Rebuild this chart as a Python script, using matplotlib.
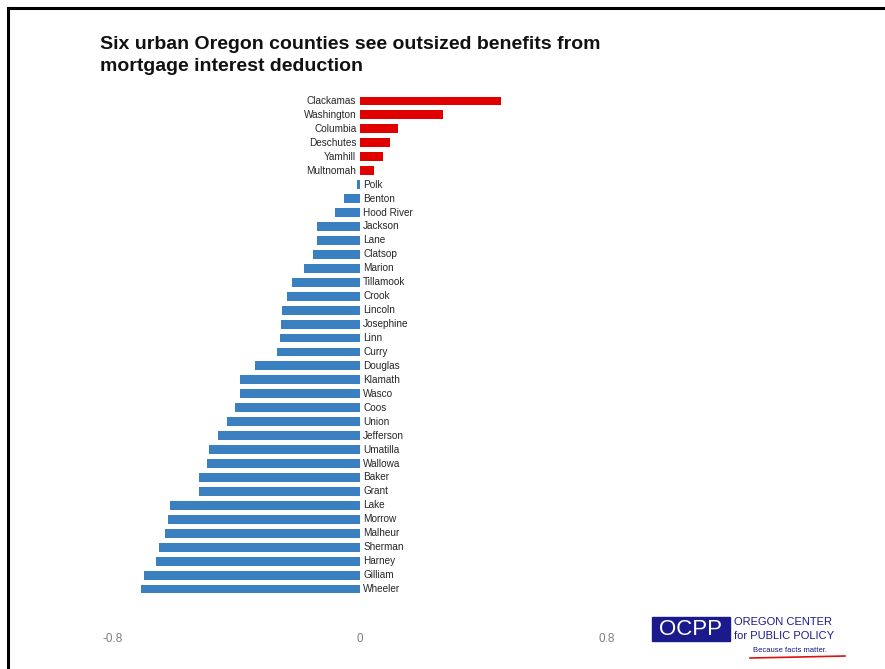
import matplotlib
matplotlib.use('Agg')
import matplotlib.pyplot as plt
from matplotlib.patches import Rectangle
from matplotlib.lines import Line2D

plt.rcParams['font.family'] = ['Liberation Sans', 'DejaVu Sans']

# share of MID benefit relative to share of population, by county
counties = ['Clackamas', 'Washington', 'Columbia', 'Deschutes', 'Yamhill', 'Multnomah',
            'Polk', 'Benton', 'Hood River', 'Jackson', 'Lane', 'Clatsop', 'Marion',
            'Tillamook', 'Crook', 'Lincoln', 'Josephine', 'Linn', 'Curry', 'Douglas',
            'Klamath', 'Wasco', 'Coos', 'Union', 'Jefferson', 'Umatilla', 'Wallowa',
            'Baker', 'Grant', 'Lake', 'Morrow', 'Malheur', 'Sherman', 'Harney',
            'Gilliam', 'Wheeler']
values = [0.456, 0.268, 0.124, 0.097, 0.073, 0.046,
          -0.011, -0.052, -0.082, -0.138, -0.138, -0.153, -0.181,
          -0.220, -0.235, -0.252, -0.257, -0.259, -0.268, -0.339,
          -0.388, -0.388, -0.404, -0.430, -0.460, -0.490, -0.494,
          -0.522, -0.522, -0.617, -0.622, -0.630, -0.650, -0.660,
          -0.699, -0.710]
xticks = [-0.8, 0, 0.8]
xtick_labels = ['-0.8', '0', '0.8']

RED = '#e00000'
BLUE = '#3a7fbf'

fig = plt.figure(figsize=(8.85, 6.69), dpi=100)
W, H = 885.0, 669.0

ax = fig.add_axes([113 / W, 73 / H, 494 / W, 502 / H])
ypos = list(range(len(counties)))
colors = [RED if v > 0 else BLUE for v in values]
ax.barh(ypos, values, height=0.64, color=colors, zorder=2)

for y, name, v in zip(ypos, counties, values):
    if v > 0:
        ax.text(-0.012, y, name, ha='right', va='center', fontsize=7.2, color='#262626')
    else:
        ax.text(0.010, y, name, ha='left', va='center', fontsize=7.2, color='#262626')

ax.set_xlim(-0.8, 0.8)
ax.set_ylim(len(counties) - 0.5, -0.5)
ax.set_yticks([])
ax.set_xticks(xticks)
ax.set_xticklabels(xtick_labels)
ax.tick_params(axis='x', length=0, pad=27, labelsize=8.5, labelcolor='#7f7f7f')
for s in ax.spines.values():
    s.set_visible(False)

fig.text(100 / W, 1 - 36 / H,
         'Six urban Oregon counties see outsized benefits from\nmortgage interest deduction',
         fontsize=14, fontweight='bold', color='#111111', va='top', ha='left',
         linespacing=1.38)

# frame lines along top and left edges
fig.add_artist(Line2D([8 / W, 1.0], [1 - 8 / H, 1 - 8 / H], color='black', lw=2.2))
fig.add_artist(Line2D([8 / W, 8 / W], [0.0, 1 - 8 / H], color='black', lw=2.2))

# OCPP logo
NAVY = '#1a1a8c'
fig.add_artist(Rectangle((652 / W, 1 - 641 / H), 78 / W, 24 / H,
                         facecolor=NAVY, edgecolor=NAVY, transform=fig.transFigure))
fig.text(691 / W, 1 - 629.5 / H, 'OCPP', color='white', fontsize=16,
         ha='center', va='center')
fig.text(734 / W, 1 - 622 / H, 'OREGON CENTER', color=NAVY, fontsize=8,
         ha='left', va='center')
fig.text(734 / W, 1 - 636 / H, 'for PUBLIC POLICY', color=NAVY, fontsize=8,
         ha='left', va='center')
fig.text(753 / W, 1 - 650 / H, 'Because facts matter.', color=NAVY, fontsize=5.5,
         ha='left', va='center')
fig.add_artist(Line2D([750 / W, 800 / W, 845 / W],
                      [1 - 658 / H, 1 - 657 / H, 1 - 656 / H], color='#d11', lw=1.2))

fig.savefig('out.png', dpi=100, facecolor='white')
